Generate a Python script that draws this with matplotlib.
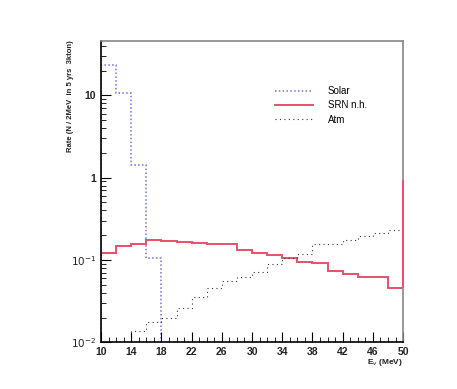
import matplotlib
matplotlib.use("Agg")
import matplotlib.pyplot as plt
import numpy as np
from matplotlib.ticker import FixedLocator, MultipleLocator, NullFormatter

plt.rcParams['font.family'] = ['Liberation Sans', 'DejaVu Sans']

# 2 MeV bins from 10 to 50 MeV
edges = np.arange(10, 52, 2)

# rates per bin
solar_edges = [10, 12, 14, 16, 18]
solar = [23.4, 10.8, 1.43, 0.105]
srn = [0.123, 0.148, 0.156, 0.175, 0.172, 0.165, 0.160, 0.158, 0.155, 0.134,
       0.123, 0.114, 0.105, 0.094, 0.091, 0.0735, 0.068, 0.063, 0.063, 0.0463]
srn_overflow = 0.95
atm = [0.0102, 0.0102, 0.0138, 0.0178, 0.0196, 0.0259, 0.0358, 0.0455, 0.0556, 0.0627,
       0.072, 0.0887, 0.105, 0.117, 0.155, 0.155, 0.175, 0.196, 0.211, 0.231]

y_ticks = [0.01, 0.1, 1, 10]
y_ticklabels = [r'$10^{-2}$', r'$10^{-1}$', '1', '10']
x_ticks = np.arange(10, 54, 4)

blue = '#7070e0'
red = '#e8506a'
atm_color = '#333333'

fig = plt.figure(figsize=(4.57, 3.89), dpi=100)
ax = fig.add_axes([0.221, 0.120, 0.661, 0.775])

ax.stairs(solar, solar_edges, baseline=1e-4, color=blue, lw=1.1, ls=(0, (1, 1.5)))
ax.stairs(srn, edges, baseline=None, color=red, lw=1.4)
ax.vlines(edges[-1], srn[-1], srn_overflow, color=red, lw=1.4, clip_on=False, zorder=4)
ax.stairs(atm, edges, baseline=None, color=atm_color, lw=0.8, ls=(0, (1, 3, 1, 3)))

ax.set_yscale('log')
ax.set_xlim(10, 50)
ax.set_ylim(0.01, 46)

ax.yaxis.set_major_locator(FixedLocator(y_ticks))
ax.set_yticklabels(y_ticklabels)
ax.yaxis.set_minor_formatter(NullFormatter())
ax.set_xticks(x_ticks)
ax.xaxis.set_minor_locator(MultipleLocator(1))
ax.tick_params(which='both', direction='in', top=False, right=False,
               labelsize=7.5, colors='black')
ax.tick_params(which='major', length=7, width=0.8)
ax.tick_params(which='minor', length=3.5, width=0.6)
for lab in ax.get_xticklabels() + ax.get_yticklabels():
    lab.set_fontweight('bold')
    lab.set_color('#222222')

for side in ['top', 'right']:
    ax.spines[side].set_color('#888888')
    ax.spines[side].set_linewidth(1.2)
for side in ['left', 'bottom']:
    ax.spines[side].set_color('black')
    ax.spines[side].set_linewidth(1.2)

fig.text(70 / 457, 1 - 40 / 389, 'Rate (N / 2MeV  in 5 yrs  3kton)', rotation=90,
         ha='center', va='top', fontsize=5.5, fontweight='bold', color='#222222')
fig.text(403 / 457, 1 - 363 / 389, r'E$_{\nu}$ (MeV)', ha='right', va='center',
         fontsize=6, fontweight='bold', color='#222222')

handles = [plt.Line2D([], [], color=blue, lw=1.1, ls=(0, (1, 1.5))),
           plt.Line2D([], [], color=red, lw=1.4),
           plt.Line2D([], [], color=atm_color, lw=0.8, ls=(0, (1, 3, 1, 3)))]
ax.legend(handles, ['Solar', 'SRN n.h.', 'Atm'], loc='upper left',
          bbox_to_anchor=(275 / 457, 1 - 86 / 389), bbox_transform=fig.transFigure,
          frameon=False, fontsize=7, handlelength=3.9, handletextpad=1.5,
          labelspacing=0.45, borderpad=0, borderaxespad=0)

fig.savefig('out.png', dpi=100)
